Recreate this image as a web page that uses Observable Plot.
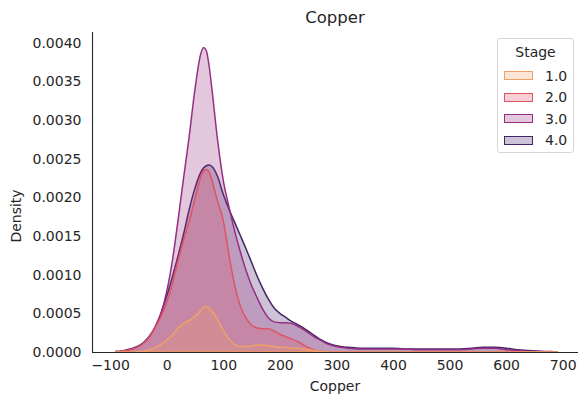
<!DOCTYPE html>
<html>
<head>
<meta charset="utf-8">
<script src="https://cdn.jsdelivr.net/npm/d3@7"></script>
<script src="https://cdn.jsdelivr.net/npm/@observablehq/plot@0.6"></script>
<style>
  body { margin: 0; background: #fff; }
  #chart { position: relative; width: 579px; height: 398px; font-family: "DejaVu Sans", sans-serif; color: #262626; }
  #chart svg { position: absolute; left: 0; top: 0; }
  .title { position: absolute; left: 92px; width: 486px; top: 8px; text-align: center; font-size: 16.5px; }
  .xlabel { position: absolute; left: 92px; width: 486px; top: 378px; text-align: center; font-size: 14px; }
  .ylabel { position: absolute; left: 16px; top: 216px; font-size: 14px; transform: translate(-50%, -50%) rotate(-90deg); white-space: nowrap; }
  .legend { position: absolute; left: 497px; top: 38px; width: 77px; height: 115px; box-sizing: border-box;
            border: 1px solid #d6d6d6; border-radius: 3px; background: rgba(255,255,255,0.8); font-size: 14px; }
  .legend .head { position: absolute; left: 0; width: 100%; top: 5px; text-align: center; }
  .legend .row { position: absolute; left: 6px; height: 17px; display: flex; align-items: center; }
  .legend .swatch { width: 29px; height: 9px; box-sizing: border-box; border: 1.5px solid; margin-right: 12px; }
</style>
</head>
<body>
<div id="chart"></div>
<script>
// Kernel density of Copper by Stage, sampled on a shared grid
const copper = [
  -90, -80, -70, -60, -50, -40, -30, -20, -10, 0, 10, 20, 30, 40, 50, 60, 65, 70, 75,
  80, 90, 100, 110, 120, 130, 140, 150, 160, 170, 180, 190, 200, 210, 220, 230, 240, 250, 260, 270, 280, 290, 300,
  320, 340, 360, 380, 400, 420, 440, 460, 480, 500, 520, 540, 560, 580, 600, 620, 640, 660, 680, 690
];

const stage1 = [
  0, 0, 0, 0, 0.000005, 0.00001, 0.00003, 0.00006, 0.0001, 0.000155, 0.00022, 0.00031, 0.00037, 0.00041, 0.00046, 0.00054, 0.00058, 0.00059, 0.00057,
  0.00053, 0.00042, 0.00028, 0.00017, 0.0001, 0.00007, 0.00007, 0.00008, 0.00009, 0.00009, 0.00008, 0.00007, 0.00006, 0.00006, 0.00005, 0.00005, 0.00004, 0.00003, 0.00002, 0.00001, 0.000005, 0, 0,
  0, 0, 0, 0, 0, 0, 0, 0, 0, 0, 0, 0, 0, 0, 0, 0, 0, 0, 0, 0
];

const stage2 = [
  0.000005, 0.00001, 0.00002, 0.00004, 0.00007, 0.00012, 0.0002, 0.00032, 0.00046, 0.00064, 0.00088, 0.00118, 0.00145, 0.0017, 0.00198, 0.00226, 0.00234, 0.00236, 0.00233,
  0.00222, 0.00195, 0.0017, 0.00126, 0.00087, 0.0006, 0.00044, 0.00035, 0.00031, 0.0003, 0.0003, 0.00027, 0.00023, 0.0002, 0.00017, 0.00014, 0.0001, 0.00006, 0.00003, 0.00001, 0.000005, 0, 0,
  0, 0, 0, 0, 0, 0, 0, 0, 0, 0, 0, 0, 0, 0, 0, 0, 0, 0, 0, 0
];

const stage3 = [
  0.000005, 0.00001, 0.00002, 0.00004, 0.00007, 0.00012, 0.0002, 0.00033, 0.0005, 0.00078, 0.00118, 0.0017, 0.00226, 0.0028, 0.0034, 0.00385, 0.00394, 0.0039, 0.0037,
  0.0034, 0.00274, 0.00222, 0.00188, 0.00157, 0.0013, 0.00106, 0.00086, 0.0007, 0.00055, 0.00044, 0.00039, 0.00038, 0.00038, 0.00037, 0.00034, 0.0003, 0.00025, 0.0002, 0.00016, 0.00012, 0.00009, 0.00007,
  0.00005, 0.00004, 0.00004, 0.00004, 0.00004, 0.00004, 0.00003, 0.00003, 0.00003, 0.00003, 0.00003, 0.00004, 0.00005, 0.00005, 0.00003, 0.00002, 0.00001, 0.000005, 0, 0
];

const stage4 = [
  0.000005, 0.00001, 0.00003, 0.00005, 0.00008, 0.00013, 0.00021, 0.00033, 0.0005, 0.00072, 0.00097, 0.00124, 0.00153, 0.00185, 0.00212, 0.00232, 0.00238, 0.00241, 0.00242,
  0.0024, 0.00227, 0.00204, 0.00185, 0.00168, 0.00151, 0.00134, 0.00116, 0.00098, 0.00082, 0.00068, 0.00057, 0.0005, 0.00045, 0.0004, 0.00036, 0.00032, 0.00027, 0.00022, 0.00017, 0.00013, 0.0001, 0.00008,
  0.00006, 0.00005, 0.00005, 0.00005, 0.00005, 0.00004, 0.00004, 0.00004, 0.00004, 0.00004, 0.00004, 0.00005, 0.00006, 0.00006, 0.00005, 0.00003, 0.00002, 0.00001, 0.000005, 0
];

const stages = ["1.0", "2.0", "3.0", "4.0"];
const stageColors = ["#f0a066", "#df5362", "#962f82", "#432566"];
const xTicks = [-100, 0, 100, 200, 300, 400, 500, 600, 700];
const yTicks = [0, 0.0005, 0.001, 0.0015, 0.002, 0.0025, 0.003, 0.0035, 0.004];

const series = [stage1, stage2, stage3, stage4];
const rows = series.flatMap((vals, i) =>
  vals.map((d, j) => ({copper: copper[j], density: d, stage: stages[i]})));

// Later stages are painted first so stage 1 ends up on top
const densityMarks = [3, 2, 1, 0].map(i =>
  Plot.areaY(rows.filter(r => r.stage === stages[i]), {
    x: "copper", y: "density", curve: "monotone-x",
    fill: stageColors[i], fillOpacity: 0.27,
    stroke: stageColors[i], strokeWidth: 1.5, strokeLinejoin: "round"
  }));

const chart = Plot.plot({
  width: 579,
  height: 398,
  marginLeft: 92,
  marginRight: 1,
  marginTop: 32,
  marginBottom: 46,
  style: {fontFamily: "DejaVu Sans, sans-serif", fontSize: "14px", color: "#262626", background: "transparent"},
  x: {domain: [-132, 727]},
  y: {domain: [0, 0.00414]},
  marks: [
    ...densityMarks,
    Plot.ruleX([-132], {stroke: "#262626", strokeWidth: 1.1}),
    Plot.ruleY([0], {stroke: "#262626", strokeWidth: 1.1}),
    Plot.axisX({ticks: xTicks, tickSize: 0, tickPadding: 8, label: null}),
    Plot.axisY({ticks: yTicks, tickSize: 0, tickPadding: 11, label: null, tickFormat: d => d.toFixed(4)})
  ]
});

const root = document.getElementById("chart");
root.appendChild(chart);

const title = document.createElement("div");
title.className = "title";
title.textContent = "Copper";
root.appendChild(title);

const xlabel = document.createElement("div");
xlabel.className = "xlabel";
xlabel.textContent = "Copper";
root.appendChild(xlabel);

const ylabel = document.createElement("div");
ylabel.className = "ylabel";
ylabel.textContent = "Density";
root.appendChild(ylabel);

// Legend box with the stage swatches
const legend = document.createElement("div");
legend.className = "legend";
const head = document.createElement("div");
head.className = "head";
head.textContent = "Stage";
legend.appendChild(head);
stages.forEach((s, i) => {
  const row = document.createElement("div");
  row.className = "row";
  row.style.top = (28 + i * 21.5) + "px";
  const sw = document.createElement("span");
  sw.className = "swatch";
  sw.style.borderColor = stageColors[i];
  const c = d3.rgb(stageColors[i]);
  sw.style.background = `rgba(${c.r},${c.g},${c.b},0.27)`;
  const lab = document.createElement("span");
  lab.textContent = s;
  row.appendChild(sw);
  row.appendChild(lab);
  legend.appendChild(row);
});
root.appendChild(legend);
</script>
</body>
</html>
